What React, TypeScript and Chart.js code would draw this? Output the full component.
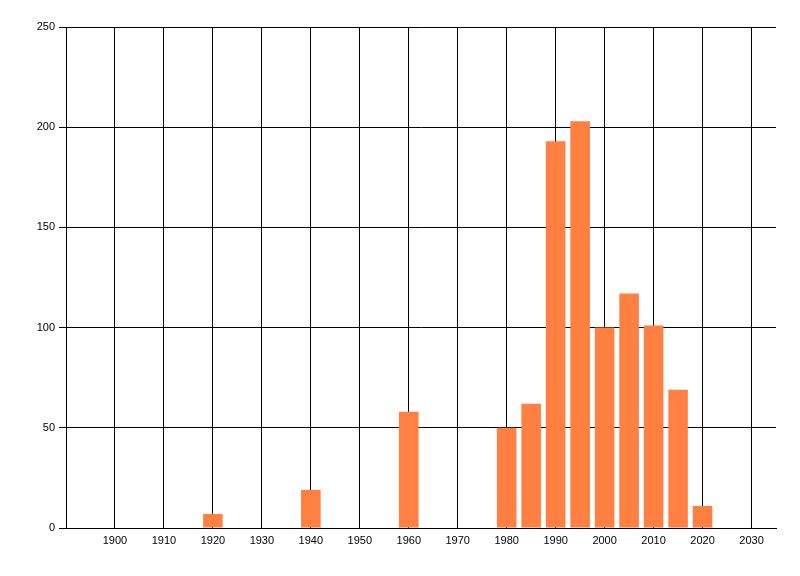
import { useEffect, useRef } from "react"
import { Chart, registerables, type ChartConfiguration } from "chart.js"

Chart.register(...registerables)

const years = [1920, 1940, 1960, 1980, 1985, 1990, 1995, 2000, 2005, 2010, 2015, 2020]
const counts = [7, 19, 58, 50, 62, 193, 203, 100, 117, 101, 69, 11]
const xTicks = [1900, 1910, 1920, 1930, 1940, 1950, 1960, 1970, 1980, 1990, 2000, 2010, 2020, 2030]
const yTicks = [0, 50, 100, 150, 200, 250]

const tickFont = { family: "'Liberation Sans', Arial, sans-serif", size: 11 }

export default function App() {
  const chartRef = useRef<HTMLCanvasElement>(null)
  const chartInstance = useRef<Chart | null>(null)

  useEffect(() => {
    document.body.style.margin = "0"
    if (!chartRef.current) return
    if (chartInstance.current) chartInstance.current.destroy()
    const ctx = chartRef.current.getContext("2d")
    if (!ctx) return

    const config: ChartConfiguration<"bar", { x: number; y: number }[]> = {
      type: "bar",
      data: {
        datasets: [
          {
            data: years.map((x, i) => ({ x, y: counts[i] })),
            backgroundColor: "#ff8040",
            borderWidth: 0,
            barPercentage: 0.8,
            categoryPercentage: 1,
          },
        ],
      },
      options: {
        animation: false,
        responsive: false,
        devicePixelRatio: 1,
        layout: { padding: { left: 0, top: 27, right: 24, bottom: 0 } },
        plugins: { legend: { display: false }, tooltip: { enabled: false } },
        scales: {
          x: {
            type: "linear",
            min: 1890,
            max: 2035,
            offset: false,
            afterBuildTicks: (axis) => {
              axis.ticks = xTicks.map((value) => ({ value }))
            },
            afterFit: (axis) => {
              axis.height = 48
            },
            grid: { color: "#000", lineWidth: 1, drawTicks: false, offset: false },
            border: { color: "#000", width: 1 },
            ticks: {
              color: "#000",
              padding: 6,
              maxRotation: 0,
              autoSkip: false,
              font: tickFont,
              callback: (v) => String(v),
            },
          },
          y: {
            min: 0,
            max: 250,
            afterBuildTicks: (axis) => {
              axis.ticks = yTicks.map((value) => ({ value }))
            },
            afterFit: (axis) => {
              axis.width = 66
            },
            grid: { color: "#000", lineWidth: 1, tickLength: 7 },
            border: { color: "#000", width: 1 },
            ticks: {
              color: "#000",
              padding: 4,
              font: tickFont,
            },
          },
        },
      },
    }

    chartInstance.current = new Chart(ctx, config as ChartConfiguration)

    return () => {
      if (chartInstance.current) chartInstance.current.destroy()
    }
  }, [])

  return (
    <div style={{ width: 800, height: 576, background: "#fff" }}>
      <canvas ref={chartRef} width={800} height={576}></canvas>
    </div>
  )
}
